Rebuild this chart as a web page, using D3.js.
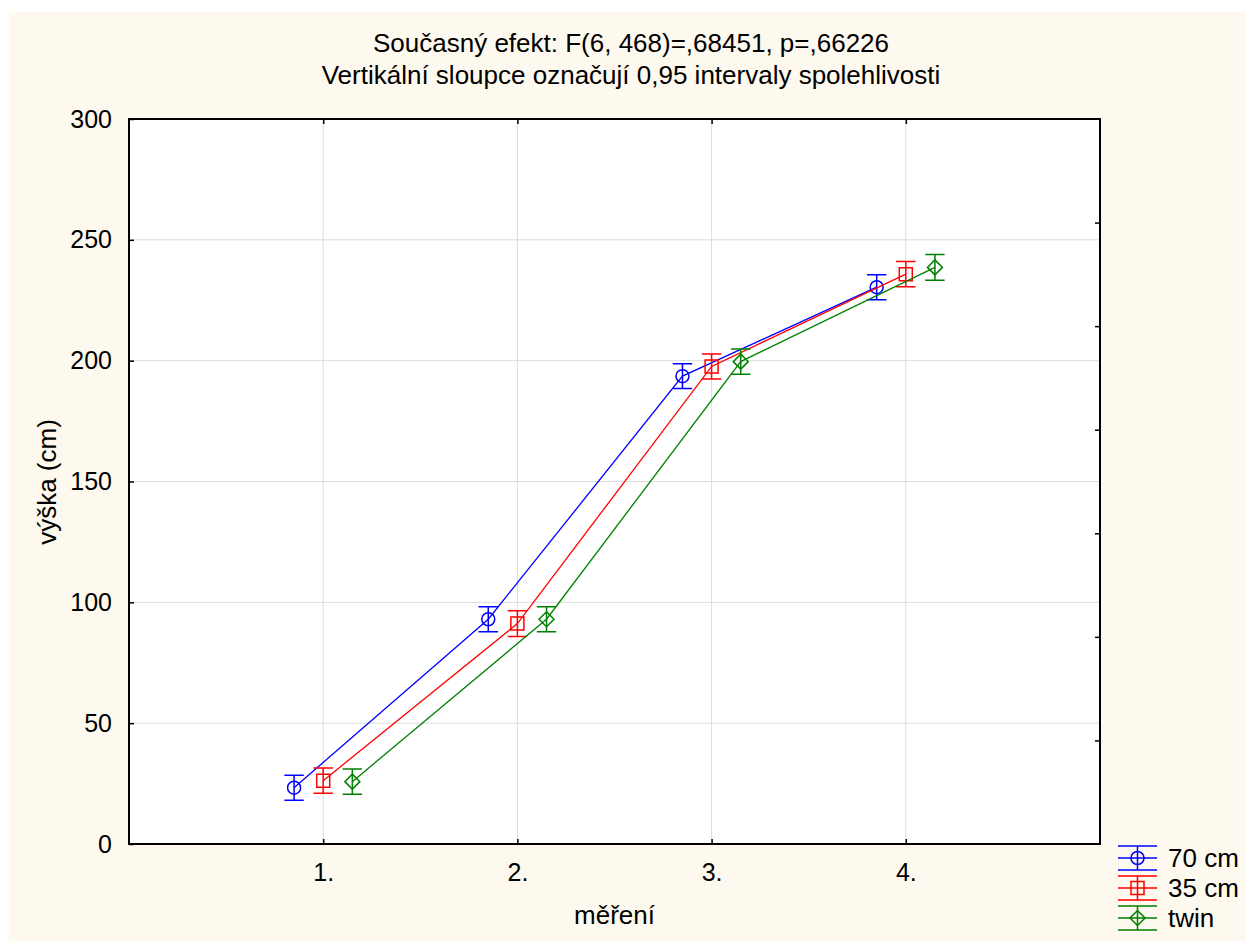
<!DOCTYPE html>
<html>
<head>
<meta charset="utf-8">
<script src="https://cdnjs.cloudflare.com/ajax/libs/d3/7.8.5/d3.min.js"></script>
<style>
    body { margin: 0; background: #ffffff; }
    svg text { font-family: "Liberation Sans", Arial, sans-serif; fill: #000; }
</style>
</head>
<body>
<svg id="chart" width="1246" height="941"></svg>
<script>
// chart data
var categories = ['1.', '2.', '3.', '4.'];
var seriesNames = ['70 cm', '35 cm', 'twin'];
var meansBlue = [23.3, 93.0, 193.6, 230.4];
var meansRed = [26.2, 91.2, 197.6, 235.8];
var meansGreen = [25.8, 93.0, 199.6, 238.6];
var ciBlue = [5.2, 5.2, 5.1, 5.2];
var ciRed = [5.2, 5.3, 5.2, 5.2];
var ciGreen = [5.2, 5.2, 5.2, 5.3];
var yTicks = [0, 50, 100, 150, 200, 250, 300];
var titleLines = ['Současný efekt: F(6, 468)=,68451, p=,66226',
    'Vertikální sloupce označují 0,95 intervaly spolehlivosti'];

(function () {
    var svg = d3.select('#chart'),
        left = 129, top = 119, right = 1100, bottom = 844;

    var series = [
        {name: seriesNames[0], means: meansBlue, ci: ciBlue, color: '#0000ff', shape: 'circle', shift: -0.15},
        {name: seriesNames[1], means: meansRed, ci: ciRed, color: '#ff0000', shape: 'square', shift: 0},
        {name: seriesNames[2], means: meansGreen, ci: ciGreen, color: '#008000', shape: 'diamond', shift: 0.15}
    ];

    var x = d3.scaleLinear().domain([0, categories.length + 1]).range([left, right]),
        y = d3.scaleLinear().domain([0, 300]).range([bottom, top]);

    // cream page and white plot area
    svg.append('rect').attr('x', 9).attr('y', 12).attr('width', 1237).attr('height', 929)
        .attr('fill', '#fef9ee');
    svg.append('rect').attr('x', left).attr('y', top).attr('width', right - left).attr('height', bottom - top)
        .attr('fill', '#ffffff');

    // grid lines
    svg.selectAll('.hgrid').data(yTicks.slice(1, -1)).enter().append('line')
        .attr('x1', left).attr('x2', right)
        .attr('y1', function (d) { return y(d); }).attr('y2', function (d) { return y(d); })
        .attr('stroke', '#dcdcdc').attr('stroke-width', 1);
    svg.selectAll('.vgrid').data(categories).enter().append('line')
        .attr('x1', function (d, i) { return x(i + 1); }).attr('x2', function (d, i) { return x(i + 1); })
        .attr('y1', top).attr('y2', bottom)
        .attr('stroke', '#dcdcdc').attr('stroke-width', 1);

    // axes with inward ticks
    var yAxis = d3.axisLeft(y).tickValues(yTicks).tickSize(-5).tickPadding(17).tickFormat(d3.format('d'));
    var gy = svg.append('g').attr('transform', 'translate(' + left + ',0)').call(yAxis);
    var xAxis = d3.axisBottom(x).tickValues(d3.range(1, categories.length + 1)).tickSize(-5).tickPadding(19)
        .tickFormat(function (d) { return categories[d - 1]; });
    var gx = svg.append('g').attr('transform', 'translate(0,' + bottom + ')').call(xAxis);
    var xTop = d3.axisTop(x).tickValues(d3.range(1, categories.length + 1)).tickSize(-5).tickFormat('');
    var gt = svg.append('g').attr('transform', 'translate(0,' + top + ')').call(xTop);
    // right side carries its own 7 divisions, ticks only
    var yRight = d3.axisRight(d3.scaleLinear().domain([0, 7]).range([bottom, top]))
        .tickValues(d3.range(1, 7)).tickSize(-5).tickFormat('');
    var gr = svg.append('g').attr('transform', 'translate(' + right + ',0)').call(yRight);

    [gy, gx, gt, gr].forEach(function (g) {
        g.select('.domain').remove();
        g.selectAll('line').attr('stroke', '#000').attr('stroke-width', 1.5);
        g.selectAll('text').attr('font-size', 25).attr('font-family', '"Liberation Sans", Arial, sans-serif');
    });

    svg.append('rect').attr('x', left).attr('y', top).attr('width', right - left).attr('height', bottom - top)
        .attr('fill', 'none').attr('stroke', '#000').attr('stroke-width', 2);

    // titles
    svg.selectAll('.title').data(titleLines).enter().append('text')
        .attr('x', 631).attr('y', function (d, i) { return 52 + i * 32; })
        .attr('text-anchor', 'middle').attr('font-size', 26)
        .text(function (d) { return d; });
    svg.append('text').attr('x', (left + right) / 2).attr('y', 924)
        .attr('text-anchor', 'middle').attr('font-size', 26).text('měření');
    svg.append('text').attr('transform', 'translate(56,482) rotate(-90)')
        .attr('text-anchor', 'middle').attr('font-size', 26).text('výška (cm)');

    var line = d3.line()
        .x(function (d) { return d.x; })
        .y(function (d) { return d.y; });

    series.forEach(function (s) {
        var pts = s.means.map(function (m, i) {
            return {x: x(i + 1 + s.shift), y: y(m), lo: y(m - s.ci[i]), hi: y(m + s.ci[i]), xc: i + 1 + s.shift};
        });
        var g = svg.append('g');

        g.append('path').attr('d', line(pts)).attr('fill', 'none')
            .attr('stroke', s.color).attr('stroke-width', 1.3);

        // error bars
        g.selectAll('.err').data(pts).enter().append('path')
            .attr('d', function (p) {
                var x0 = x(p.xc - 0.05), x1 = x(p.xc + 0.05);
                return 'M' + p.x + ',' + p.lo + 'V' + p.hi +
                    'M' + x0 + ',' + p.lo + 'H' + x1 +
                    'M' + x0 + ',' + p.hi + 'H' + x1;
            })
            .attr('fill', 'none').attr('stroke', s.color).attr('stroke-width', 1.5);

        g.selectAll('.mk').data(pts).enter().append('path')
            .attr('d', function (p) { return markerPath(s.shape, p.x, p.y); })
            .attr('fill', 'none').attr('stroke', s.color).attr('stroke-width', 1.5);
    });

    // legend
    var legend = svg.append('g');
    series.forEach(function (s, i) {
        var cy = 858 + i * 30, x0 = 1118, x1 = 1157, xm = (x0 + x1) / 2;
        legend.append('path')
            .attr('d', 'M' + x0 + ',' + (cy - 12) + 'H' + x1 + 'M' + x0 + ',' + cy + 'H' + x1 +
                'M' + x0 + ',' + (cy + 12) + 'H' + x1 + 'M' + xm + ',' + (cy - 12) + 'V' + (cy + 12))
            .attr('fill', 'none').attr('stroke', s.color).attr('stroke-width', 1.5);
        legend.append('path').attr('d', markerPath(s.shape, xm, cy))
            .attr('fill', 'none').attr('stroke', s.color).attr('stroke-width', 1.5);
        legend.append('text').attr('x', 1168).attr('y', cy + 9).attr('font-size', 26).text(s.name);
    });
})();

// path for the marker shapes
function markerPath(shape, cx, cy) {
    if (shape == 'circle') {
        var r = 6.5;
        return 'M' + (cx - r) + ',' + cy + 'a' + r + ',' + r + ' 0 1,0 ' + (2 * r) + ',0' +
            'a' + r + ',' + r + ' 0 1,0 ' + (-2 * r) + ',0Z';
    }
    if (shape == 'square') {
        var h = 6.5;
        return 'M' + (cx - h) + ',' + (cy - h) + 'H' + (cx + h) + 'V' + (cy + h) + 'H' + (cx - h) + 'Z';
    }
    var d = 7.5;
    return 'M' + cx + ',' + (cy - d) + 'L' + (cx + d) + ',' + cy + 'L' + cx + ',' + (cy + d) + 'L' + (cx - d) + ',' + cy + 'Z';
}
</script>
</body>
</html>
